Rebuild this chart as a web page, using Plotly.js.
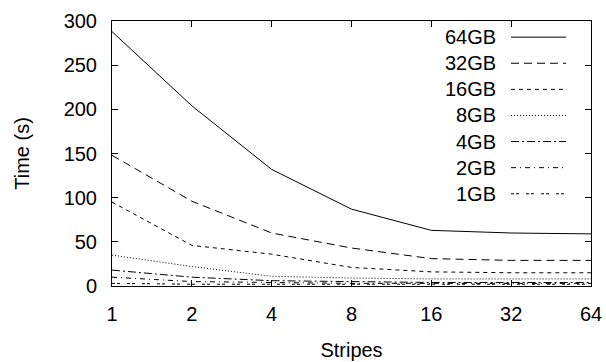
<!DOCTYPE html>
<html>
<head>
<meta charset="utf-8">
<script src="https://cdn.plot.ly/plotly-3.0.1.min.js"></script>
<style>html,body{margin:0;padding:0;background:#fff;}#plot{width:606px;height:362px;}</style>
</head>
<body>
<div id="plot"></div>
<script>
const stripes = [1, 2, 4, 8, 16, 32, 64];
const seriesNames = ["64GB", "32GB", "16GB", "8GB", "4GB", "2GB", "1GB"];
const t64 = [288, 204, 132, 87, 63, 60, 59];
const t32 = [148, 96, 60, 43, 31, 29, 29];
const t16 = [95, 46, 36, 21, 16, 15, 15];
const t8 = [35, 22, 11, 9, 8, 8, 8];
const t4 = [18, 10, 6, 5, 4, 4, 4];
const t2 = [10, 5, 4, 3, 3, 3, 3];
const t1 = [3, 2, 2, 2, 2, 2, 2];
const yTicks = [0, 50, 100, 150, 200, 250, 300];

const seriesValues = [t64, t32, t16, t8, t4, t2, t1];
const dashes = ["solid", "8px,5px", "4px,4px", "1px,2px", "8px,3px,2px,3px", "5px,4px,1px,4px", "3px,2px,3px,7px"];

const FONT = "Liberation Sans, Arial, Helvetica, sans-serif";

const traces = seriesNames.map((name, i) => ({
  x: stripes, y: seriesValues[i], name: name, type: "scatter", mode: "lines",
  line: {color: "#000", width: 1, dash: dashes[i]},
  showlegend: false, hoverinfo: "skip"
}));

// custom gnuplot-style legend: label left of line sample
const annotations = [];
const shapes = [];
const top0 = 0.939, step = 26 / 264;
seriesNames.forEach((name, i) => {
  const yy = top0 - i * step;
  annotations.push({xref: "paper", yref: "paper", x: 0.806, y: yy, text: name, showarrow: false,
    xanchor: "right", yanchor: "middle", font: {family: FONT, size: 20, color: "#000"}});
  shapes.push({type: "line", xref: "paper", yref: "paper", x0: 0.833, x1: 0.948, y0: yy, y1: yy,
    line: {color: "#000", width: 1, dash: dashes[i]}});
});

const layout = {
  width: 606, height: 362,
  margin: {l: 112, r: 15, t: 21, b: 76, pad: 0},
  paper_bgcolor: "#fff", plot_bgcolor: "#fff",
  font: {family: FONT, size: 20, color: "#000"},
  xaxis: {
    type: "log", range: [0, Math.log10(64)],
    tickvals: stripes, ticktext: stripes.map(String),
    ticks: "inside", ticklen: 6, tickcolor: "#000", tickwidth: 1,
    showline: true, linecolor: "#000", linewidth: 1, mirror: "ticks",
    showgrid: false, zeroline: false,
    tickfont: {family: FONT, size: 20, color: "#000"},
    ticklabelstandoff: 10,
    title: {text: "Stripes", font: {family: FONT, size: 20, color: "#000"}, standoff: 18}
  },
  yaxis: {
    range: [0, 300], tickvals: yTicks,
    ticks: "inside", ticklen: 6, tickcolor: "#000", tickwidth: 1,
    showline: true, linecolor: "#000", linewidth: 1, mirror: "ticks",
    showgrid: false, zeroline: false,
    tickfont: {family: FONT, size: 20, color: "#000"},
    ticklabelstandoff: 10,
    title: {text: "Time (s)", font: {family: FONT, size: 20, color: "#000"}, standoff: 28}
  },
  annotations: annotations,
  shapes: shapes
};

Plotly.newPlot("plot", traces, layout, {displayModeBar: false, staticPlot: true});
</script>
</body>
</html>
